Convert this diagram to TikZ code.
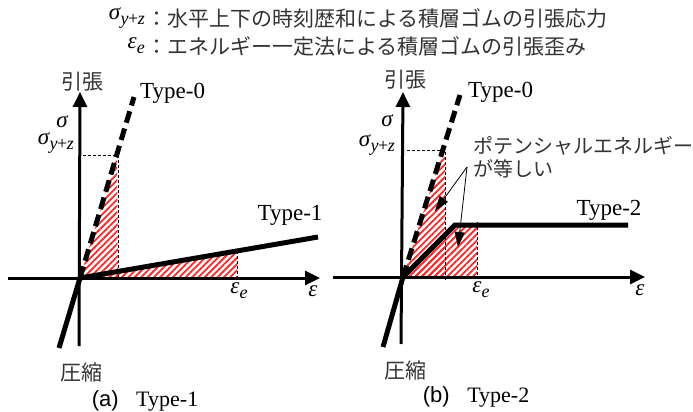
\documentclass[tikz,border=0pt]{standalone}
\usepackage{fontspec}
\setmainfont{Liberation Serif}
\newfontfamily\cjk{Noto Sans CJK JP}
\newfontfamily\arialf{Liberation Sans}
\usetikzlibrary{arrows.meta,patterns.meta}
\newcommand{\sigyz}{{\itshape σ}\kern0.5pt\raisebox{-0.22em}{\fontsize{18}{20}\selectfont\itshape y\kern-0.5pt\upshape +\kern-0.5pt\itshape z}}
\newcommand{\epse}{{\itshape ε}\raisebox{-0.22em}{\fontsize{18}{20}\selectfont\itshape e}}
\begin{document}
\begin{tikzpicture}[x=1pt,y=-1pt,
  jp/.style={font=\cjk\fontsize{21}{25}\selectfont, text=black!80, inner sep=0pt},
  lbl/.style={font=\fontsize{23}{27}\selectfont, inner sep=0pt},
  mth/.style={font=\fontsize{23}{27}\selectfont, inner sep=0pt},
  axisline/.style={line width=3pt, -{Triangle[length=15pt,width=14pt]}},
  curve/.style={line width=5pt},
  dashzero/.style={line width=5pt, dash pattern=on 12pt off 6pt},
  guide/.style={line width=1pt, dash pattern=on 3pt off 2pt},
  hatch/.style={pattern={Lines[angle=45,distance=4.5pt,line width=1.8pt]}, pattern color=red!85},
  note/.style={line width=0.8pt, -{Triangle[length=15pt,width=10pt]}}
]
\useasboundingbox (0,0) rectangle (693,412);

% ---------- title ----------
\node[jp, anchor=west] (t1) at (146,18) {：水平上下の時刻歴和による積層ゴムの引張応力};
\node[mth, anchor=east] (t1m) at (145,18) {\sigyz};
\node[jp, anchor=west] (t2) at (146,46) {：エネルギー一定法による積層ゴムの引張歪み};
\node[mth, anchor=east] (t2m) at (145,46) {\epse};

% ---------- panel (a) ----------
\coordinate (Oa) at (80,278);
\coordinate (a0top) at (134,97);
\coordinate (a0s) at (117,155);
\coordinate (a0b) at (118,278);
\coordinate (a1end) at (318,237);
\coordinate (aee) at (237,251);
\coordinate (aeb) at (237,278);
\coordinate (acomp) at (59,348);
\coordinate (ayb) at (79,346);
\coordinate (ayt) at (80,92);
\coordinate (axl) at (8,278);
\coordinate (axr) at (320,278);
\coordinate (asl) at (83,155);

\fill[hatch] (Oa) -- (a0s) -- (a0b) -- cycle;
\fill[hatch] (Oa) -- (aee) -- (aeb) -- cycle;
\draw[guide] (asl) -- (a0s -| a0b) -- (a0b);
\draw[guide] (aee) -- (aeb);
\draw[axisline] (axl) -- (axr);
\draw[axisline] (ayb) -- (ayt);
\draw[dashzero] (Oa) -- (a0top);
\draw[curve] (Oa) -- (a1end);
\draw[curve] (Oa) -- (acomp);

\node[jp] (aten) at (82,82) {引張};
\node[lbl, anchor=west] (a0lab) at (140,93) {Type-0};
\node[mth] (asig) at (62,122) {\itshape σ};
\node[mth, anchor=east] (asyz) at (74,143) {\sigyz};
\node[lbl] (a1lab) at (290,215) {Type-1};
\node[mth] (aeps) at (239,291) {\epse};
\node[mth] (aepsx) at (313,291) {\itshape ε};
\node[jp] (acmp) at (81,372) {圧縮};
\node[font=\fontsize{22}{26}\selectfont, inner sep=0pt] (acap) at (145,401) {{\arialf (a)}\hspace{0.8em}Type-1};

% ---------- panel (b) ----------
\coordinate (Ob) at (403,277);
\coordinate (b0top) at (460,95);
\coordinate (b0s) at (443,150);
\coordinate (b0r) at (445,150);
\coordinate (b0b) at (445,277);
\coordinate (bknee) at (455,225);
\coordinate (b2end) at (628,225);
\coordinate (bee) at (477,225);
\coordinate (beb) at (477,277);
\coordinate (bcomp) at (383,347);
\coordinate (byb) at (401,344);
\coordinate (byt) at (403,92);
\coordinate (bxl) at (333,277);
\coordinate (bxr) at (645,277);
\coordinate (bsl) at (407,150);

\fill[hatch] (Ob) -- (b0s) -- (b0r) -- (b0b) -- cycle;
\fill[hatch] (Ob) -- (bknee) -- (bee) -- (beb) -- cycle;
\draw[guide] (bsl) -- (b0r) -- ([yshift=-3pt]b0b);
\draw[guide] ([yshift=3pt]bee) -- (beb);
\draw[axisline] (bxl) -- (bxr);
\draw[axisline] (byb) -- (byt);
\draw[dashzero] (Ob) -- (b0top);
\draw[curve] (Ob) -- (bknee) -- (b2end);
\draw[curve] (Ob) -- (bcomp);

\node[jp] (bten) at (405,80) {引張};
\node[lbl, anchor=west] (b0lab) at (468,92) {Type-0};
\node[mth] (bsig) at (387,121) {\itshape σ};
\node[mth, anchor=east] (bsyz) at (395,145) {\sigyz};
\node[lbl] (b2lab) at (609,210) {Type-2};
\node[mth] (beps) at (481,290) {\epse};
\node[mth] (bepsx) at (640,290) {\itshape ε};
\node[jp] (bcmp) at (405,370) {圧縮};
\node[font=\fontsize{22}{26}\selectfont, inner sep=0pt] (bcap) at (476,397) {{\arialf (b)}\hspace{0.8em}Type-2};

\node[jp, anchor=west, font=\cjk\fontsize{20}{24}\selectfont] (pe1) at (473,146) {ポテンシャルエネルギー};
\node[jp, anchor=west, font=\cjk\fontsize{20}{24}\selectfont] (pe2) at (473,169) {が等しい};
\coordinate (nst) at (467,167);
\coordinate (nt1) at (435,211);
\coordinate (nt2) at (458,247);
\draw[note] (nst) -- (nt1);
\draw[note] (nst) -- (nt2);
\end{tikzpicture}
\end{document}
